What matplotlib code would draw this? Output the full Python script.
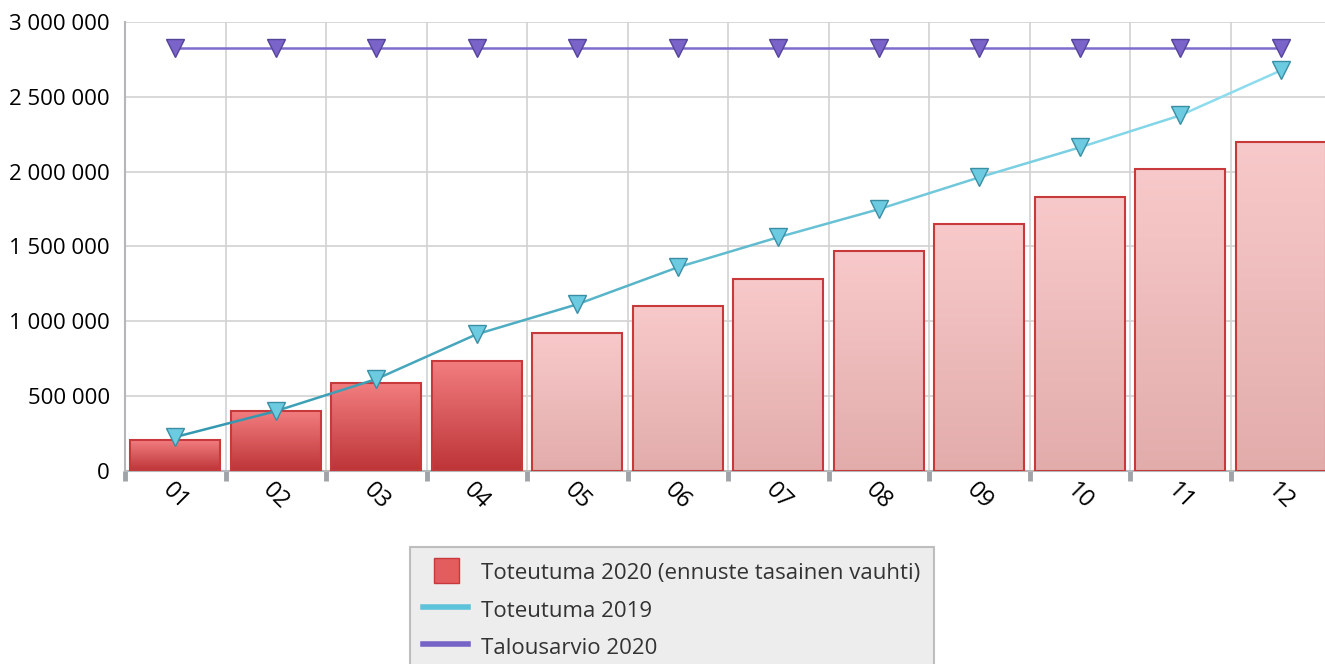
import matplotlib
matplotlib.use("Agg")
import matplotlib.pyplot as plt
from matplotlib.collections import LineCollection
from matplotlib.colors import LinearSegmentedColormap, to_rgb
from matplotlib.lines import Line2D
from matplotlib.ticker import FuncFormatter
import numpy as np

months = ["01", "02", "03", "04", "05", "06", "07", "08", "09", "10", "11", "12"]
toteutuma_2020 = [207000, 400000, 587000, 734000, 921000, 1101000,
                  1281000, 1468000, 1648000, 1829000, 2015000, 2196000]
n_actual = 4  # first months are realised, rest is forecast
toteutuma_2019 = [227000, 400000, 614000, 914000, 1114000, 1361000,
                  1562000, 1749000, 1962000, 2162000, 2376000, 2676000]
talousarvio_2020 = [2823000] * 12

plt.rcParams["font.family"] = ["Open Sans", "DejaVu Sans"]
FS = 16

fig = plt.figure(figsize=(13.25, 6.64), dpi=100)
ax = fig.add_axes([125 / 1325, 193 / 664, 1206 / 1325, 449 / 664])

x = np.arange(len(months))

# gradient fills for the bars
dark = LinearSegmentedColormap.from_list("dark", ["#bd3437", "#f27d7f"])
light = LinearSegmentedColormap.from_list("light", ["#e2acab", "#f8c9ca"])
grad = np.linspace(0, 1, 256).reshape(-1, 1)
bars = ax.bar(x, toteutuma_2020, width=0.9, facecolor="none",
              edgecolor="#c8393b", linewidth=1.5, zorder=3)
for i, b in enumerate(bars):
    cmap = dark if i < n_actual else light
    im = ax.imshow(grad, cmap=cmap, origin="lower", aspect="auto",
                   extent=[b.get_x(), b.get_x() + b.get_width(), 0, b.get_height()],
                   zorder=2)
    im.set_clip_path(b)
ax.set_xlim(-0.5, len(months) - 0.5)
ax.set_ylim(0, 3000000)

# 2019 line, colour fades from teal to light cyan
pts = np.column_stack([x, toteutuma_2019]).reshape(-1, 1, 2)
segs = np.concatenate([pts[:-1], pts[1:]], axis=1)
c0, c1 = np.array(to_rgb("#3499b0")), np.array(to_rgb("#8cdcee"))
t = np.linspace(0, 1, len(segs))
cols = [tuple(c0 + (c1 - c0) * v) for v in t]
ax.add_collection(LineCollection(segs, colors=cols, linewidth=1.8, zorder=4))
ax.plot(x, toteutuma_2019, linestyle="none", marker="v", ms=13,
        mfc="#6ccbe0", mec="#3a8ea4", mew=1, zorder=5)

ax.plot(x, talousarvio_2020, color="#7d6ccc", linewidth=1.8, zorder=4,
        marker="v", ms=13, mfc="#7a63c9", mec="#54449a", mew=1)

# grid and axes
ax.set_xticks(np.arange(len(months) + 1) - 0.5, minor=True)
ax.grid(True, which="minor", axis="x", color="#d2d2d2", linewidth=1.2, zorder=0)
ax.grid(True, which="major", axis="y", color="#d2d2d2", linewidth=1.2, zorder=0)
ax.set_axisbelow(True)
for s in ["top", "right"]:
    ax.spines[s].set_visible(False)
for s in ["left", "bottom"]:
    ax.spines[s].set_color("#b4b6b8")
    ax.spines[s].set_linewidth(1.5)

ax.set_xticks(x)
ax.set_xticklabels(months, rotation=-45, ha="center", fontsize=FS + 1)
ax.tick_params(axis="x", which="major", length=0, pad=5)
ax.tick_params(axis="x", which="minor", length=7, width=3.5, color="#a0a4a8",
               direction="out")
ax.set_yticks(np.arange(0, 3000001, 500000))
ax.yaxis.set_major_formatter(FuncFormatter(lambda v, p: f"{int(v):,}".replace(",", " ")))
ax.tick_params(axis="y", length=0, pad=11, labelsize=FS)

handles = [
    Line2D([], [], linestyle="none", marker="s", ms=18, mfc="#e35c5e", mec="#c8393b",
           label="Toteutuma 2020 (ennuste tasainen vauhti)"),
    Line2D([], [], color="#5cc3da", linewidth=4, label="Toteutuma 2019"),
    Line2D([], [], color="#7563c6", linewidth=4, label="Talousarvio 2020"),
]
leg = fig.legend(handles=handles, loc="upper center", bbox_to_anchor=(672 / 1325, 1 - 536 / 664),
                 fontsize=FS, frameon=True, fancybox=False, handlelength=2.0,
                 handleheight=1.2, labelspacing=0.6, borderpad=0.6, handletextpad=0.6)
leg.get_frame().set_facecolor("#e9e9e9")
leg.get_frame().set_edgecolor("#b0b0b0")
leg.get_frame().set_linewidth(1.5)
for txt in leg.get_texts():
    txt.set_color("#333333")

fig.savefig("out.png", dpi=100)
